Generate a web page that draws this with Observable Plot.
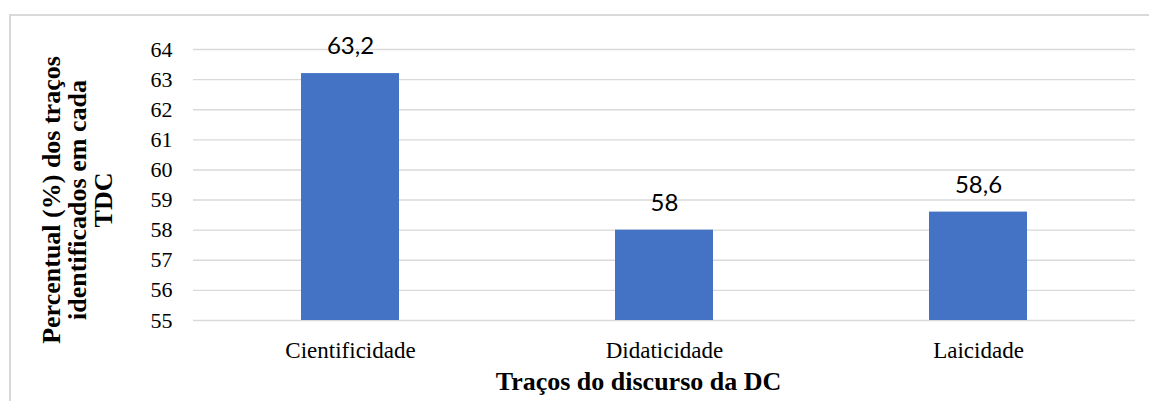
<!DOCTYPE html>
<html>
<head>
<meta charset="utf-8">
<script src="https://cdn.jsdelivr.net/npm/d3@7"></script>
<script src="https://cdn.jsdelivr.net/npm/@observablehq/plot@0.6"></script>
<style>
  html, body { margin: 0; padding: 0; background: #fff; }
  body { width: 1149px; height: 401px; position: relative; overflow: hidden; }
  #chart { position: absolute; left: 0; top: 0; }
  .border-top { position: absolute; left: 9px; top: 14px; width: 1140px; height: 2px; background: #d9d9d9; }
  .border-left { position: absolute; left: 9px; top: 14px; width: 2px; height: 387px; background: #d9d9d9; }
</style>
</head>
<body>
<div class="border-top"></div>
<div class="border-left"></div>
<div id="chart"></div>
<script>
const categories = ["Cientificidade", "Didaticidade", "Laicidade"];
const values = [63.2, 58, 58.6];
const valueLabels = ["63,2", "58", "58,6"];
const yTicks = [55, 56, 57, 58, 59, 60, 61, 62, 63, 64];
const yDomain = [55, 64];
const xTitle = "Traços do discurso da DC";
const yTitle = "Percentual (%) dos traços\nidentificados em cada\nTDC";

const data = categories.map((c, i) => ({category: c, value: values[i], label: valueLabels[i], base: yDomain[0]}));

const chart = Plot.plot({
  width: 1149,
  height: 401,
  marginLeft: 193,
  marginRight: 14,
  marginTop: 49,
  marginBottom: 81,
  style: {fontFamily: "'Liberation Serif', 'Times New Roman', serif", background: "transparent", color: "#000"},
  x: {domain: categories, paddingInner: 0.688, paddingOuter: 0.344, label: null},
  y: {domain: yDomain, label: null},
  marks: [
    Plot.ruleY(yTicks, {stroke: "#d9d9d9", strokeWidth: 1.4}),
    Plot.barY(data, {x: "category", y1: "base", y2: "value", fill: "#4472C4"}),
    Plot.text(data, {x: "category", y: "value", text: "label", dy: -27, lineAnchor: "middle", fontFamily: "Lato, 'Noto Sans', sans-serif", fontSize: 24, fill: "#000"}),
    Plot.axisY({ticks: yTicks, tickSize: 0, tickPadding: 21, fontSize: 22, label: null, tickFormat: d => String(d)}),
    Plot.axisX({tickSize: 0, tickPadding: 21, fontSize: 23, label: null}),
    Plot.text([xTitle], {frameAnchor: "bottom", dx: -26, dy: 61, lineAnchor: "middle", fontSize: 26, fontWeight: "bold", fill: "#000"}),
    Plot.text([yTitle], {frameAnchor: "left", dx: -116, dy: 15, rotate: -90, textAnchor: "middle", lineAnchor: "middle", lineHeight: 1.0, fontSize: 26, fontWeight: "bold", fill: "#000"})
  ]
});
document.getElementById("chart").appendChild(chart);
</script>
</body>
</html>
